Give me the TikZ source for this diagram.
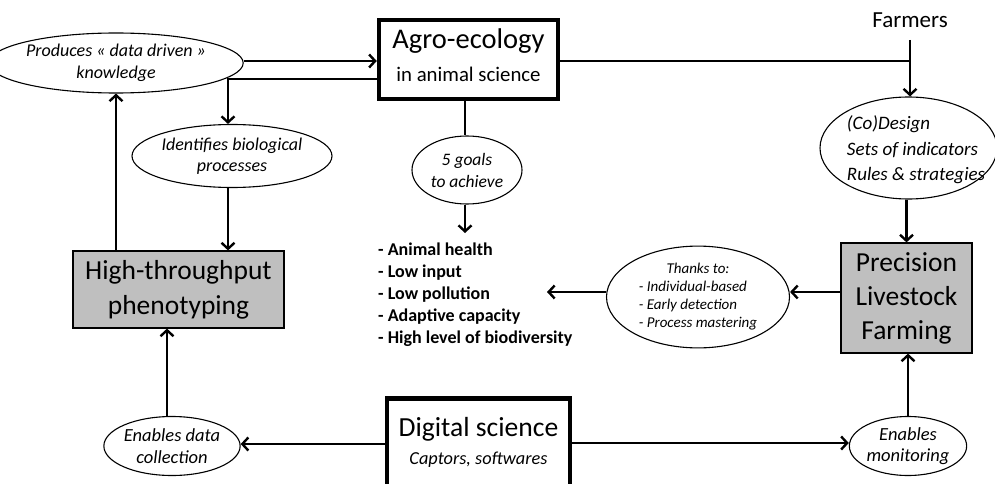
\documentclass[tikz,border=0pt]{standalone}
\usepackage{fontspec}
\setmainfont{Carlito}
\usetikzlibrary{shapes.geometric,arrows.meta}
\begin{document}
\begin{tikzpicture}[x=1pt,y=-1pt,
  ell/.style={draw,ellipse,line width=1.1pt,inner sep=0pt,align=center,
    font=\itshape\fontsize{18}{21.5}\selectfont},
  arr/.style={line width=2.4pt,-{Straight Barb[length=6pt,width=13pt,line width=2.4pt]}},
  ln/.style={line width=2.4pt},
  thickbox/.style={draw,line width=4.5pt,inner sep=0pt},
  graybox/.style={draw,line width=1.2pt,fill=black!25,inner sep=0pt,align=center,
    font=\fontsize{27.5}{34}\selectfont},
  txt/.style={inner sep=0pt,align=center}]
\useasboundingbox (0,0) rectangle (995,484);

% Agro-ecology box
\node[thickbox,minimum width=179pt,minimum height=79pt] (agro) at (468.5,59.5) {};
\node[txt,font=\fontsize{28.5}{30}\selectfont,anchor=base] (agrot) at (468.5,49) {Agro-ecology};
\node[txt,font=\fontsize{20.8}{24}\selectfont,anchor=base] (agros) at (468.5,82) {in animal science};

% Ellipses top-left
\node[ell,minimum width=212pt,minimum height=60pt] (prod) at (116,63) {Produces « data driven »\\knowledge};
\node[ell,minimum width=200pt,minimum height=63pt] (ident) at (232,156) {Identifies biological\\processes};
\node[ell,minimum width=110pt,minimum height=68pt,font=\itshape\fontsize{17.5}{22}\selectfont] (goals) at (467,170) {5 goals\\to achieve};

% goals list
\node[txt,align=left,anchor=north west,font=\bfseries\fontsize{18}{21.8}\selectfont] (list) at (378,243)
  {- Animal health\\- Low input\\- Low pollution\\- Adaptive capacity\\- High level of biodiversity};
\coordinate (listtop) at (465,233);

% HTP box
\node[graybox,minimum width=211pt,minimum height=77pt,font=\fontsize{27.5}{35}\selectfont] (htp) at (178.5,289.5) {High-throughput\\phenotyping};

% Farmers
\node[txt,font=\fontsize{23}{26}\selectfont,anchor=base] (farm) at (910,28) {Farmers};
\coordinate (farmbot) at (910,40);
\node[draw,ellipse,line width=1.1pt,inner sep=0pt,minimum width=177pt,minimum height=102pt] (codes) at (908.5,148) {};
\node[txt,align=left,font=\itshape\fontsize{19}{25.5}\selectfont] (codest) at (916,150)
  {(Co)Design\\Sets of indicators\\Rules \& strategies};

% PLF box
\node[graybox,minimum width=131pt,minimum height=110pt] (plf) at (906.5,298) {Precision\\Livestock\\Farming};

% Thanks ellipse
\node[ell,minimum width=183pt,minimum height=89pt,font=\itshape\fontsize{15}{18}\selectfont] (thanks) at (698,297)
  {\begin{tabular}{@{}l@{}}\multicolumn{1}{@{}c@{}}{Thanks to:}\\- Individual-based\\- Early detection\\- Process mastering\end{tabular}};
\coordinate (thanksend) at (547,292);

% Digital science box
\node[thickbox,minimum width=183pt,minimum height=115pt] (dig) at (478.5,456) {};
\node[txt,font=\fontsize{27.6}{30}\selectfont,anchor=base] (digt) at (478.5,436) {Digital science};
\node[txt,font=\itshape\fontsize{18.3}{22}\selectfont,anchor=base] (digs) at (478.5,464) {Captors, softwares};

% bottom ellipses
\node[ell,minimum width=127pt,minimum height=59pt,font=\itshape\fontsize{18.5}{21.5}\selectfont] (coll) at (172,446) {Enables data\\collection};
\node[ell,minimum width=116pt,minimum height=59pt,font=\itshape\fontsize{18.5}{21.5}\selectfont] (mon) at (908,446) {Enables\\monitoring};

% connectors
\coordinate (a1) at (377,79);
\draw[arr] (prod.east |- 0,61) -- (agro.west |- 0,61);
\draw[arr] (a1) -| (ident.north -| 228,0);
\draw[arr] (ident.south -| 228,0) -- (htp.north -| 228,0);
\draw[arr] (htp.north -| prod.south) -- (prod.south);
\draw[ln] (agro.south -| 465,0) -- (goals.north -| 465,0);
\draw[arr] (goals.south -| listtop) -- (listtop);
\coordinate (a2) at (560,61);
\coordinate (fj) at (910,61);
\draw[ln] (a2) -- (fj);
\draw[arr] (farmbot) -- (codes.north -| farmbot);
\draw[arr] (codes.south -| plf.north) -- (plf.north);
\coordinate (p1) at (841,292);
\draw[arr] (p1) -- (thanks.east |- p1);
\draw[arr] (thanks.west |- thanksend) -- (thanksend);
\draw[arr] (dig.west |- 0,444) -- (coll.east |- 0,444);
\draw[arr] (dig.east |- 0,443) -- (mon.west |- 0,443);
\draw[arr] (coll.north -| 167,0) -- (htp.south -| 167,0);
\draw[arr] (mon.north) -- (mon.north |- plf.south);
\end{tikzpicture}
\end{document}
